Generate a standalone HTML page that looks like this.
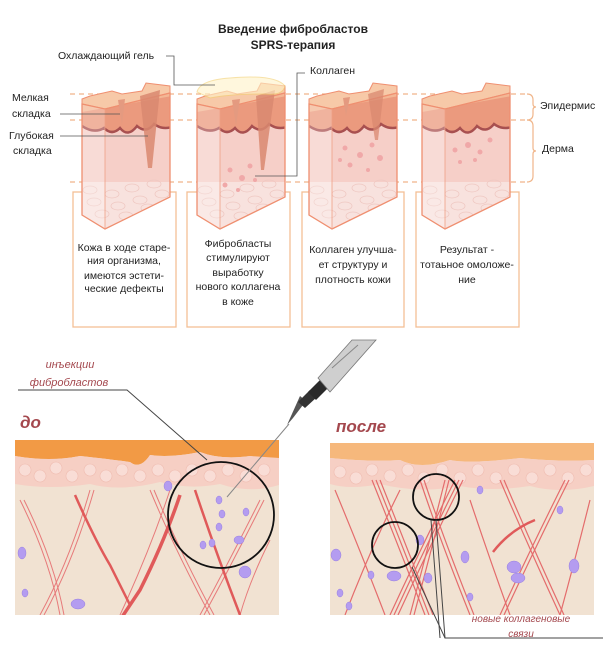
<!DOCTYPE html>
<html><head><meta charset="utf-8"><style>
html,body{margin:0;padding:0;background:#fff;}
svg{display:block;}
text{font-family:"Liberation Sans","DejaVu Sans",sans-serif;}
</style></head><body>
<svg width="610" height="670" viewBox="0 0 610 670" xmlns="http://www.w3.org/2000/svg">
<defs>
<clipPath id="blk"><polygon points="0,22 23,27 88,11 88,115 23,147 0,133"/></clipPath>
<g id="base">
 <polygon points="0,22 23,27 88,11 88,4 64,1 60,9 40,12 30,9 8,14 0,17" fill="#f7c9a8" stroke="#ef8f70" stroke-width="1"/>
 <g clip-path="url(#blk)">
  <rect x="0" y="0" width="90" height="150" fill="#f6cfc8"/>
  <rect x="0" y="0" width="90" height="40" fill="#f3b795"/>
  <path d="M0,30 L90,14 L90,45 Q80,48 72,42 Q64,52 55,44 Q46,56 38,46 Q30,54 22,46 Q12,52 0,44 Z" fill="#eb9a7e"/>
  <path d="M0,44 Q12,52 22,46 Q30,54 38,46 Q46,56 55,44 Q64,52 72,42 Q80,48 90,45" fill="none" stroke="#a85050" stroke-width="2.5"/>
  <rect x="0" y="100" width="90" height="50" fill="#f8e2de"/>
  <g fill="none" stroke="#efc8c2" stroke-width="0.8">
   <ellipse cx="8" cy="108" rx="7" ry="4"/><ellipse cx="30" cy="112" rx="7" ry="4"/><ellipse cx="50" cy="106" rx="7" ry="4"/><ellipse cx="72" cy="102" rx="7" ry="4"/>
   <ellipse cx="12" cy="120" rx="7" ry="4"/><ellipse cx="36" cy="124" rx="7" ry="4"/><ellipse cx="58" cy="118" rx="7" ry="4"/><ellipse cx="80" cy="112" rx="7" ry="4"/>
   <ellipse cx="20" cy="132" rx="7" ry="4"/><ellipse cx="44" cy="134" rx="7" ry="4"/><ellipse cx="66" cy="126" rx="7" ry="4"/>
  </g>
  <polygon points="0,0 23,0 23,150 0,150" fill="#ffffff" opacity="0.25"/>
 </g>
 <polygon points="0,22 23,27 88,11 88,115 23,147 0,133" fill="none" stroke="#ef8f70" stroke-width="1.3"/>
 <line x1="23" y1="27" x2="23" y2="147" stroke="#ef9f85" stroke-width="0.8"/>
</g>
</defs>

<text x="293" y="33" font-size="12" font-weight="bold" text-anchor="middle" fill="#222">Введение фибробластов</text>
<text x="293" y="49" font-size="12" font-weight="bold" text-anchor="middle" fill="#222">SPRS-терапия</text>

<g stroke="#f0b58a" stroke-width="1.3" stroke-dasharray="5,4">
<line x1="70" y1="94" x2="527" y2="94"/><line x1="70" y1="120" x2="527" y2="120"/><line x1="70" y1="182" x2="527" y2="182"/>
</g>
<path d="M527,94 Q533,94 533,100 L533,104 Q533,107 536,107 Q533,107 533,110 L533,114 Q533,120 527,120" fill="none" stroke="#f0b58a" stroke-width="1.2"/>
<path d="M527,120 Q533,120 533,126 L533,148 Q533,151 536,151 Q533,151 533,154 L533,176 Q533,182 527,182" fill="none" stroke="#f0b58a" stroke-width="1.2"/>
<text x="540" y="109" font-size="10.5" fill="#222">Эпидермис</text>
<text x="542" y="152" font-size="10.5" fill="#222">Дерма</text>

<g fill="none" stroke="#f3bf96" stroke-width="1.3">
<rect x="73" y="192" width="103" height="135"/><rect x="187" y="192" width="103" height="135"/>
<rect x="302" y="192" width="102" height="135"/><rect x="416" y="192" width="103" height="135"/>
</g>
<g fill="#fff">
<rect x="74" y="193" width="101" height="40"/><rect x="188" y="193" width="101" height="40"/>
<rect x="303" y="193" width="100" height="40"/><rect x="417" y="193" width="101" height="40"/>
</g>

<use href="#base" x="82" y="82"/>
<use href="#base" x="197" y="82"/>
<use href="#base" x="309" y="82"/>
<use href="#base" x="422" y="82"/>

<!-- wrinkles -->
<path d="M118,100 L125,99 L122,125 Z" fill="#e49a80"/>
<path d="M140,96 L160,90 L152,168 L148,168 Z" fill="#d98870" opacity="0.85"/>
<path d="M232,100 L240,99 L236,126 Z" fill="#e49a80"/>
<path d="M256,96 L275,90 L264,170 L261,170 Z" fill="#d98870" opacity="0.85"/>
<path d="M343,98 L350,97 L346,116 Z" fill="#e49a80"/>
<path d="M368,94 L384,89 L378,140 L375,140 Z" fill="#d98870" opacity="0.75"/>
<g fill="#f0a8a8">
<circle cx="230" cy="170" r="2.5"/><circle cx="242" cy="178" r="3"/><circle cx="225" cy="185" r="2.5"/><circle cx="250" cy="166" r="2.5"/><circle cx="238" cy="190" r="2"/><circle cx="255" cy="180" r="2"/>
<circle cx="345" cy="148" r="2.5"/><circle cx="360" cy="155" r="3"/><circle cx="372" cy="145" r="2.5"/><circle cx="350" cy="165" r="2.5"/><circle cx="368" cy="170" r="2"/><circle cx="380" cy="158" r="3"/><circle cx="340" cy="160" r="2"/>
<circle cx="455" cy="150" r="2.5"/><circle cx="468" cy="145" r="3"/><circle cx="480" cy="152" r="2.5"/><circle cx="460" cy="162" r="2"/><circle cx="490" cy="140" r="2.5"/><circle cx="475" cy="160" r="2"/>
</g>
<!-- gel -->
<path d="M197,92 Q200,80 230,78 Q275,74 285,86 Q283,96 265,94 Q230,94 210,98 Z" fill="#fff3c8" opacity="0.6" stroke="#f2cf70" stroke-width="1"/>

<!-- labels top -->
<g font-size="10.5" fill="#222">
<text x="58" y="59">Охлаждающий гель</text>
<text x="310" y="74">Коллаген</text>
<text x="12" y="101">Мелкая</text><text x="12" y="117">складка</text>
<text x="9" y="139">Глубокая</text><text x="13" y="154">складка</text>
</g>
<g fill="none" stroke="#555" stroke-width="0.8">
<polyline points="166,56 174,56 174,85 215,85"/>
<polyline points="305,73 297,73 297,176 255,176"/>
<line x1="60" y1="114" x2="120" y2="114"/>
<line x1="60" y1="136" x2="148" y2="136"/>
</g>
<g font-size="10.5" fill="#222" text-anchor="middle">
<text x="124" y="251">Кожа в ходе старе-</text><text x="124" y="264">ния организма,</text><text x="124" y="279">имеются эстети-</text><text x="124" y="292">ческие дефекты</text>
<text x="238" y="247">Фибробласты</text><text x="238" y="261">стимулируют</text><text x="238" y="276">выработку</text><text x="238" y="290">нового коллагена</text><text x="238" y="305">в коже</text>
<text x="353" y="253">Коллаген улучша-</text><text x="353" y="268">ет структуру и</text><text x="353" y="283">плотность кожи</text>
<text x="467" y="253">Результат -</text><text x="467" y="268">тотаьное омоложе-</text><text x="467" y="283">ние</text>
</g>

<!-- bottom panels -->
<clipPath id="lp"><rect x="15" y="440" width="264" height="175"/></clipPath>
<clipPath id="rp"><rect x="330" y="443" width="264" height="172"/></clipPath>
<g clip-path="url(#lp)">
<rect x="15" y="440" width="264" height="175" fill="#f1e2d2"/>
<path d="M15,440 L279,440 L279,458 Q260,458 250,456 Q220,460 200,452 Q170,458 150,455 Q140,470 130,462 Q100,458 80,456 Q50,462 15,456 Z" fill="#f29a45"/>
<path d="M15,456 Q50,462 80,456 Q100,458 130,462 Q140,470 150,455 Q170,458 200,452 Q220,460 250,456 L279,458 L279,485 Q250,494 220,484 Q190,490 160,482 Q120,492 90,484 Q50,490 15,484 Z" fill="#f6cfc4"/>
<g fill="#f9ddd6" stroke="#efbcb0" stroke-width="0.6">
<circle cx="25" cy="470" r="6"/><circle cx="40" cy="476" r="6"/><circle cx="56" cy="468" r="6"/><circle cx="72" cy="476" r="6"/><circle cx="90" cy="470" r="6"/><circle cx="106" cy="476" r="6"/><circle cx="122" cy="470" r="6"/><circle cx="140" cy="476" r="6"/><circle cx="158" cy="470" r="6"/><circle cx="175" cy="476" r="6"/><circle cx="192" cy="470" r="6"/><circle cx="210" cy="476" r="6"/><circle cx="228" cy="470" r="6"/><circle cx="246" cy="476" r="6"/><circle cx="264" cy="470" r="6"/>
</g>
<g fill="none" stroke="#e77a7a" stroke-width="1">
<path d="M20,500 Q50,560 60,615"/><path d="M24,500 Q54,560 64,615"/>
<path d="M90,490 Q70,560 40,615"/><path d="M94,490 Q74,560 44,615"/>
<path d="M150,490 Q175,550 210,615"/><path d="M154,490 Q179,550 214,615"/>
<path d="M170,490 Q150,550 120,615"/>
<path d="M260,500 Q230,560 200,615"/><path d="M264,500 Q234,560 204,615"/>
<path d="M270,540 Q250,580 240,615"/>
</g>
<g stroke="#e05a5a" fill="none">
<path d="M75,495 Q95,540 110,565 L130,605" stroke-width="2.5"/>
<path d="M180,495 Q165,540 140,590 L120,620" stroke-width="3.5"/>
<path d="M195,490 Q215,550 240,615" stroke-width="2.5"/>
</g>
<g fill="#b49cf0" stroke="#9a80e0" stroke-width="0.5">
<ellipse cx="22" cy="553" rx="4" ry="6"/><ellipse cx="25" cy="593" rx="3" ry="4"/><ellipse cx="78" cy="604" rx="7" ry="5"/><ellipse cx="168" cy="486" rx="4" ry="5"/><ellipse cx="219" cy="500" rx="3" ry="4"/><ellipse cx="222" cy="514" rx="3" ry="4"/><ellipse cx="219" cy="527" rx="3" ry="4"/><ellipse cx="246" cy="512" rx="3" ry="4"/><ellipse cx="239" cy="540" rx="5" ry="4"/><ellipse cx="203" cy="545" rx="3" ry="4"/><ellipse cx="245" cy="572" rx="6" ry="6"/><ellipse cx="212" cy="543" rx="3" ry="4"/>
</g>
</g>
<g clip-path="url(#rp)">
<rect x="330" y="443" width="264" height="172" fill="#f1e2d2"/>
<path d="M330,443 L594,443 L594,460 Q560,462 520,458 Q470,464 450,460 Q420,470 400,460 Q370,462 330,458 Z" fill="#f6b87c"/>
<path d="M330,458 Q370,462 400,460 Q420,470 450,460 Q470,464 520,458 Q560,462 594,460 L594,486 Q560,494 530,486 Q490,492 460,486 Q420,494 380,484 Q350,490 330,484 Z" fill="#f6cfc4"/>
<g fill="#f9ddd6" stroke="#efbcb0" stroke-width="0.6">
<circle cx="340" cy="472" r="6"/><circle cx="356" cy="478" r="6"/><circle cx="372" cy="470" r="6"/><circle cx="390" cy="476" r="6"/><circle cx="408" cy="470" r="6"/><circle cx="424" cy="478" r="6"/><circle cx="442" cy="470" r="6"/><circle cx="460" cy="478" r="6"/><circle cx="478" cy="470" r="6"/><circle cx="496" cy="478" r="6"/><circle cx="514" cy="470" r="6"/><circle cx="532" cy="478" r="6"/><circle cx="550" cy="470" r="6"/><circle cx="568" cy="478" r="6"/><circle cx="586" cy="470" r="6"/>
</g>
<g fill="none" stroke="#e46c6c" stroke-width="1.2">
<path d="M372,480 Q400,550 425,615"/><path d="M376,480 Q404,550 429,615"/><path d="M380,480 Q408,550 433,615"/>
<path d="M455,480 Q420,550 390,615"/><path d="M459,480 Q424,550 394,615"/><path d="M463,480 Q428,550 398,615"/>
<path d="M420,480 Q440,540 470,615"/><path d="M424,480 Q444,540 474,615"/>
<path d="M445,480 Q430,540 410,615"/><path d="M449,480 Q434,540 414,615"/>
<path d="M500,480 Q530,550 560,615"/><path d="M504,480 Q534,550 564,615"/>
<path d="M565,480 Q530,550 500,615"/><path d="M569,480 Q534,550 504,615"/>
<path d="M335,490 Q360,550 385,615"/><path d="M400,490 Q370,550 345,615"/>
<path d="M590,500 Q575,560 560,615"/><path d="M470,500 Q490,560 510,615"/>
</g>
<path d="M493,552 Q510,530 535,520" stroke="#e05a5a" stroke-width="2.5" fill="none"/>
<g fill="#b49cf0" stroke="#9a80e0" stroke-width="0.5">
<ellipse cx="336" cy="555" rx="5" ry="6"/><ellipse cx="340" cy="593" rx="3" ry="4"/><ellipse cx="349" cy="606" rx="3" ry="4"/><ellipse cx="371" cy="575" rx="3" ry="4"/><ellipse cx="394" cy="576" rx="7" ry="5"/><ellipse cx="420" cy="540" rx="4" ry="5"/><ellipse cx="428" cy="578" rx="4" ry="5"/><ellipse cx="465" cy="557" rx="4" ry="6"/><ellipse cx="480" cy="490" rx="3" ry="4"/><ellipse cx="514" cy="567" rx="7" ry="6"/><ellipse cx="470" cy="597" rx="3" ry="4"/><ellipse cx="518" cy="578" rx="7" ry="5"/><ellipse cx="560" cy="510" rx="3" ry="4"/><ellipse cx="574" cy="566" rx="5" ry="7"/>
</g>
</g>

<!-- circles -->
<g fill="none" stroke="#111" stroke-width="1.8">
<ellipse cx="221" cy="515" rx="53" ry="53"/>
<ellipse cx="436" cy="497" rx="23" ry="23"/>
<ellipse cx="395" cy="545" rx="23" ry="23"/>
</g>
<!-- syringe -->
<line x1="227" y1="497" x2="289" y2="424" stroke="#888" stroke-width="1"/>
<polygon points="287,425 293,418 306,401 300,396" fill="#555"/>
<polygon points="298,402 310,390 317,397 305,408" fill="#333"/>
<polygon points="308,392 322,378 330,386 316,400" fill="#2a2a2a"/>
<polygon points="318,378 352,340 376,340 330,392" fill="#cfcfcf" stroke="#777" stroke-width="0.8"/>
<line x1="332" y1="368" x2="358" y2="345" stroke="#888"/>

<!-- leader lines -->
<polyline points="18,390 127,390 207,460" fill="none" stroke="#444" stroke-width="1"/>
<polyline points="603,638 445,638 436,520" fill="none" stroke="#444" stroke-width="1"/>
<line x1="445" y1="638" x2="412" y2="567" stroke="#444" stroke-width="1"/>
<line x1="440" y1="638" x2="431" y2="520" stroke="#444" stroke-width="1"/>

<g font-style="italic" fill="#a4484e">
<text x="70" y="368" font-size="11" text-anchor="middle">инъекции</text>
<text x="69" y="386" font-size="11" text-anchor="middle">фибробластов</text>
<text x="20" y="428" font-size="17" font-weight="bold">до</text>
<text x="336" y="432" font-size="17" font-weight="bold">после</text>
<text x="521" y="622" font-size="10" text-anchor="middle">новые коллагеновые</text>
<text x="521" y="637" font-size="10" text-anchor="middle">связи</text>
</g>
</svg>
</body></html>
